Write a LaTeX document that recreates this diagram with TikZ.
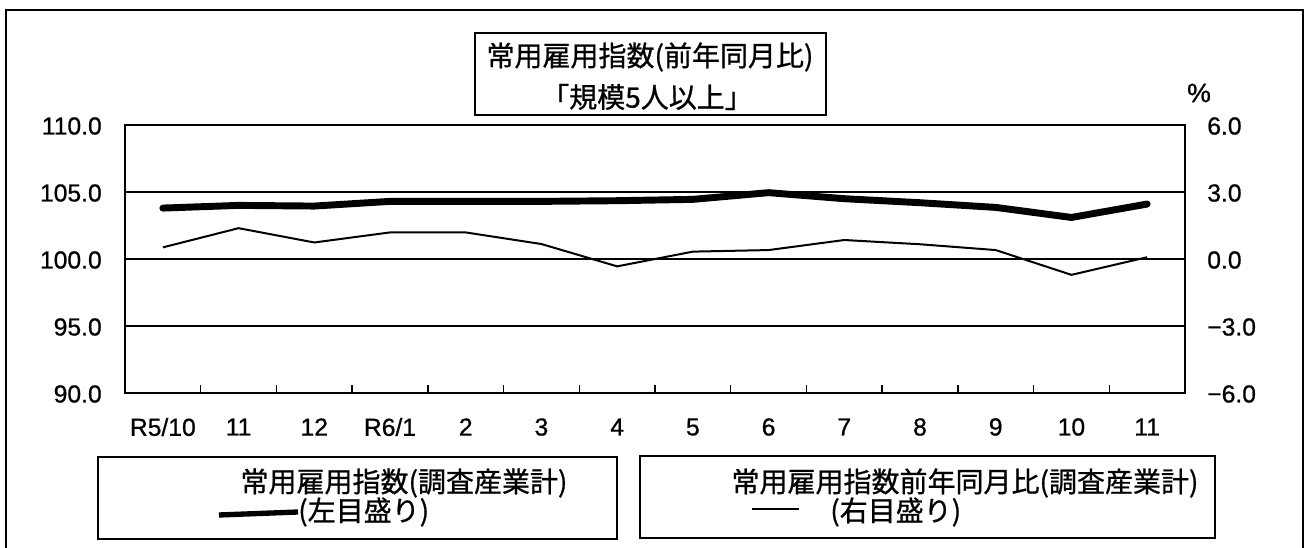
\documentclass[tikz,border=0pt]{standalone}
\usepackage{fontspec}
\setmainfont[FakeBold=0.8]{Liberation Sans}
\newfontfamily\jp[FakeBold=0.8]{Noto Sans CJK JP}
\begin{document}
\begin{tikzpicture}[x=0.75pt,y=-0.75pt,
  outerframe/.style={line width=1.5pt,line cap=rect},
  boxline/.style={line width=1.4pt},
  gridline/.style={line width=1.1pt},
  numlab/.style={font=\fontsize{18.5}{20}\selectfont,inner sep=0pt},
  jplab/.style={font=\jp\fontsize{21}{24}\selectfont,inner sep=0pt},
  thickseries/.style={line width=5.2pt,line cap=round,line join=round},
  thinseries/.style={line width=1.5pt,line join=round}]
\useasboundingbox (0,0) rectangle (1306,548);
\fill[white] (0,0) rectangle (1306,548);
% outer frame
\draw[outerframe] (6,560) -- (6,10) -- (1303,10) -- (1303,560);
% title box
\draw[boxline] (475,33) rectangle (826,115);
\node[jplab] (title1) at (650,57) {常用雇用指数(前年同月比)};
\node[jplab] (title2) at (647,97) {「規模5人以上」};
% plot area
\draw[gridline] (125,125) rectangle (1185,393);
\foreach \v in {95,100,105} \draw[gridline] (125,{393-(\v-90)*13.4}) -- (1185,{393-(\v-90)*13.4});
\foreach \i in {1,...,13} \draw[gridline] ({125+75.714*\i},393) -- ({125+75.714*\i},385);
% left axis labels
\foreach \v/\t in {110/110.0,105/105.0,100/100.0,95/95.0,90/90.0}
  \node[numlab,anchor=east] (L\v) at (102,{393-(\v-90)*13.4+1}) {\t};
% right axis labels
\foreach \v/\t/\n in {6/6.0/a,3/3.0/b,0/0.0/c,-3/−3.0/d,-6/−6.0/e}
  \node[numlab,anchor=west] (R\n) at (1207,{259-\v*22.33+1}) {\t};
\node[numlab,font=\fontsize{20}{22}\selectfont] (pct) at (1199,93) {\%};
% category labels
\foreach \t [count=\i] in {R5/10,11,12,R6/1,2,3,4,5,6,7,8,9,10,11}
  \node[numlab] (c\i) at ({125+75.714*(\i-0.5)},427) {\t};
% series coordinates
\foreach \v [count=\i] in {103.8,104.0,103.95,104.3,104.3,104.3,104.35,104.45,104.95,104.5,104.2,103.85,103.1,104.1}
  \coordinate (t\i) at ({125+75.714*(\i-0.5)},{393-(\v-90)*13.4});
\foreach \v [count=\i] in {0.52,1.38,0.74,1.19,1.19,0.67,-0.33,0.33,0.40,0.85,0.66,0.40,-0.71,0.08}
  \coordinate (p\i) at ({125+75.714*(\i-0.5)},{259-\v*22.33});
\draw[thickseries] (t1) \foreach \i in {2,...,14} { -- (t\i) };
\draw[thinseries] (p1) \foreach \i in {2,...,14} { -- (p\i) };
% legend 1
\draw[boxline] (98,457) rectangle (617,539);
\node[jplab] (leg1a) at (404,483) {常用雇用指数(調査産業計)};
\node[jplab,anchor=west] (leg1b) at (298,512) {(左目盛り)};
\coordinate (k1s) at (219,515);
\draw[line width=4pt] (k1s) -- (leg1b.west);
% legend 2
\draw[boxline] (640,456) rectangle (1215,538);
\node[jplab] (leg2a) at (965,483) {常用雇用指数前年同月比(調査産業計)};
\node[jplab,anchor=west] (leg2b) at (830,512) {(右目盛り)};
\coordinate (k2s) at (752,509);
\coordinate (k2e) at (799,509);
\draw[line width=1.3pt] (k2s) -- (k2e);
\end{tikzpicture}
\end{document}
